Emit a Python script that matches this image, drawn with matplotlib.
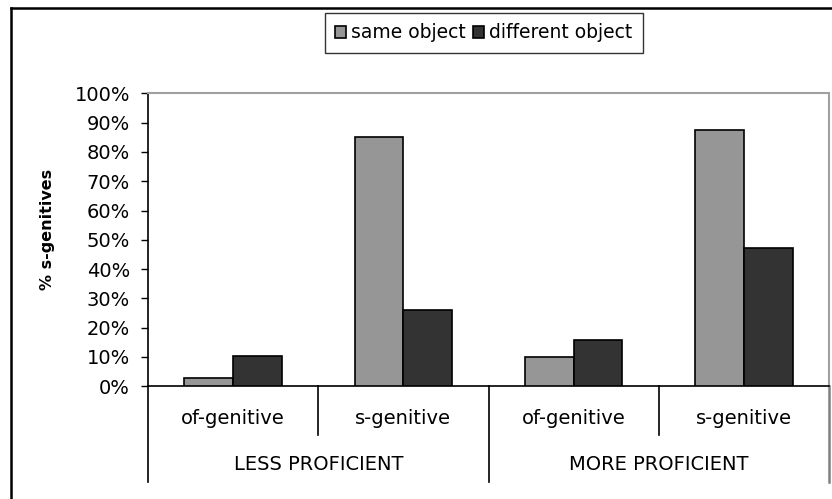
import matplotlib.pyplot as plt
import matplotlib.transforms as mtransforms
import numpy as np

plt.rcParams['font.family'] = ['DejaVu Sans']

# data
groups = ['LESS PROFICIENT', 'MORE PROFICIENT']
categories = ['of-genitive', 's-genitive', 'of-genitive', 's-genitive']
same_object = [3.0, 85.2, 10.1, 87.5]
different_object = [10.4, 26.0, 15.9, 47.3]
series_names = ['same object', 'different object']
yticks = list(range(0, 101, 10))

fig = plt.figure(figsize=(8.32, 4.99), dpi=100)
W, H = 832, 499
fs = 14

# plot area in pixels
left, right, top, zero = 148, 829, 93.3, 386.3
ax = fig.add_axes([left / W, (H - zero) / H, (right - left) / W, (zero - top) / H])

x = np.arange(len(categories)) + 0.5
bw = 0.286
ax.bar(x - bw / 2, same_object, bw, color='#969696', edgecolor='black', linewidth=1.2,
       label=series_names[0], zorder=3)
ax.bar(x + bw / 2, different_object, bw, color='#333333', edgecolor='black', linewidth=1.2,
       label=series_names[1], zorder=3)

ax.set_xlim(0, len(categories))
ax.set_ylim(0, 100)
ax.set_yticks(yticks)
ax.set_yticklabels([f'{t}%' for t in yticks], fontsize=fs)
ax.tick_params(axis='y', direction='out', length=5, width=1, pad=8)
ax.set_xticks([])

for s in ['left', 'bottom']:
    ax.spines[s].set_color('black')
    ax.spines[s].set_linewidth(1.2)
for s in ['top', 'right']:
    ax.spines[s].set_color('#a0a0a0')
    ax.spines[s].set_linewidth(1.5)

# multi-level category axis
trans = mtransforms.blended_transform_factory(ax.transData, ax.transAxes)
inner_bottom = (zero - 435) / (zero - top)
outer_bottom = (zero - 482) / (zero - top)
for i in range(len(categories) + 1):
    yb = outer_bottom if i % 2 == 0 else inner_bottom
    col = '#808080' if i == len(categories) else 'black'
    ax.plot([i, i], [0, yb], color=col, lw=1.2 if i < len(categories) else 1.8,
            transform=trans, clip_on=False)

for xi, lab in zip(x, categories):
    ax.text(xi, (zero - 419) / (zero - top), lab, transform=trans, ha='center', va='center',
            fontsize=fs)
for gi, g in enumerate(groups):
    ax.text(2 * gi + 1, (zero - 465) / (zero - top), g, transform=trans, ha='center',
            va='center', fontsize=fs)

fig.text(47.5 / W, 1 - 229 / H, '% s-genitives', rotation=90, ha='center', va='center',
         fontsize=11.5, fontweight='bold')

# legend
leg = fig.legend(loc='center', bbox_to_anchor=(483.5 / W, 1 - 33 / H), ncol=2,
                 fontsize=13.5, frameon=True, fancybox=False, handlelength=0.6,
                 handleheight=0.6, handletextpad=0.25, columnspacing=0.4,
                 borderpad=0.55, borderaxespad=0)
leg.get_frame().set_edgecolor('black')
leg.get_frame().set_linewidth(1.0)

# outer chart border (cut off on right and bottom)
fig.add_artist(plt.Line2D([11 / W, 11 / W], [0, 1 - 8 / H], color='black', lw=1.8,
                          transform=fig.transFigure))
fig.add_artist(plt.Line2D([11 / W, 1], [1 - 8 / H, 1 - 8 / H], color='black', lw=1.8,
                          transform=fig.transFigure))

fig.savefig('out.png', dpi=100)
